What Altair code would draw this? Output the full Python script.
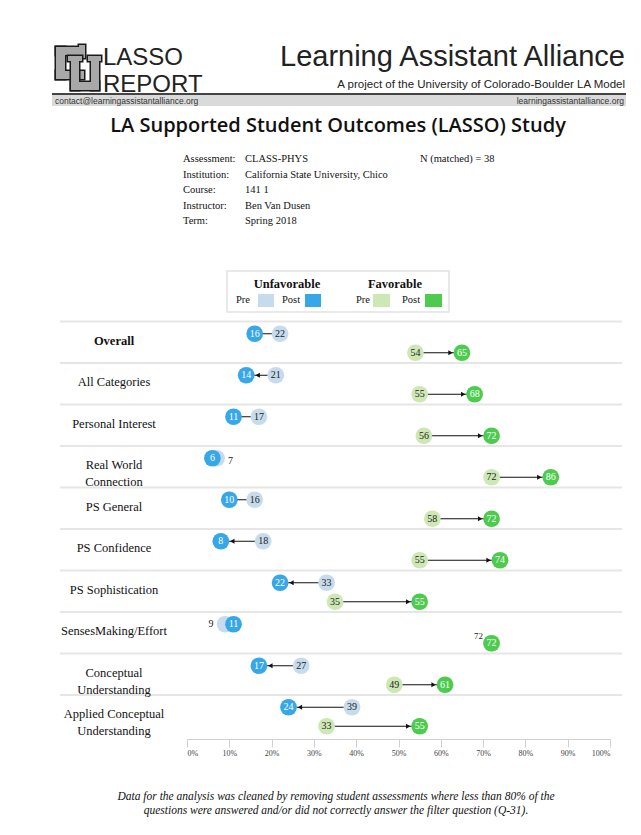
import altair as alt
import pandas as pd

# ---------------- data ----------------
categories = ["Overall", "All Categories", "Personal Interest", "Real World\nConnection",
              "PS General", "PS Confidence", "PS Sophistication", "SensesMaking/Effort",
              "Conceptual\nUnderstanding", "Applied Conceptual\nUnderstanding"]
unfav_pre = [22, 21, 17, 7, 16, 18, 33, 9, 27, 39]
unfav_post = [16, 14, 11, 6, 10, 8, 22, 11, 17, 24]
fav_pre = [54, 55, 56, 72, 58, 55, 35, 72, 49, 33]
fav_post = [65, 68, 72, 86, 72, 74, 55, 72, 61, 55]
axis_ticks = [0, 10, 20, 30, 40, 50, 60, 70, 80, 90, 100]

info_labels = ["Assessment:", "Institution:", "Course:", "Instructor:", "Term:"]
info_values = ["CLASS-PHYS", "California State University, Chico", "141 1", "Ben Van Dusen", "Spring 2018"]
n_matched = "N (matched) = 38"
footnote = ["Data for the analysis was cleaned by removing student assessments where less than 80% of the",
            "questions were answered and/or did not correctly answer the filter question (Q-31)."]

rows = []
for i, c in enumerate(categories):
    rows.append(dict(cat=c, group="Unfavorable", pre=unfav_pre[i], post=unfav_post[i]))
    rows.append(dict(cat=c, group="Favorable", pre=fav_pre[i], post=fav_post[i]))
df = pd.DataFrame(rows)
df_cats = pd.DataFrame({"cat": categories})
one = pd.DataFrame({"a": [0]})

SERIF = "Liberation Serif"
SANS = "Liberation Sans"
UNF_PRE, UNF_POST = "#c6dcec", "#37a7e8"
FAV_PRE, FAV_POST = "#cde8b5", "#4dcb4f"

# page -> plot coordinates
X0, Y0 = 187, 320
W, H = 423, 415
def px(x):
    return x - X0
def py(y):
    return y - Y0

xscale = alt.Scale(domain=[0, 100], nice=False, zero=False)
xaxis = alt.Axis(values=axis_ticks, labelExpr="datum.value + '%'", domainColor="#d0d0d0",
                 tickColor="#d0d0d0", tickSize=8, labelFont=SERIF, labelFontSize=8,
                 labelColor="#444", labelPadding=2, offset=4, grid=False, title=None)
yscale = alt.Scale(domain=categories, paddingInner=0, paddingOuter=0)

def xenc(f):
    return alt.X(f, type="quantitative", scale=xscale, axis=xaxis, title=None)

def yenc(**kw):
    return alt.Y("cat:N", sort=categories, scale=yscale, axis=None, **kw)

def txt(s, x, y, size, font=SERIF, align="left", weight="normal", style="normal",
        color="#111", baseline="middle", **kw):
    return alt.Chart(pd.DataFrame({"t": [s]})).mark_text(
        font=font, fontSize=size, align=align, fontWeight=weight, fontStyle=style,
        color=color, baseline=baseline, **kw
    ).encode(x=alt.value(px(x)), y=alt.value(py(y)), text=alt.Text("t:N"))

def box(x1, x2, y1, y2, fill, stroke=None, sw=0):
    kw = dict(fill=fill, strokeWidth=sw)
    if stroke:
        kw["stroke"] = stroke
    return alt.Chart(one).mark_rect(**kw).encode(
        x=alt.value(px(x1)), x2=alt.value(px(x2)), y=alt.value(py(y1)), y2=alt.value(py(y2)))

layers = []

# ---------------- header ----------------
# CU logo drawn with blocks: black outline pass, then gray fill pass, per letter
LG, LK = "#a8a8a8", "#1a1a1a"
def letter(parts):
    out = [box(a - 1.5, b + 1.5, c - 1.5, d + 1.5, LK) for a, b, c, d in parts]
    out += [box(a, b, c, d, LG) for a, b, c, d in parts]
    return out
C_parts = [(56, 84, 47, 55), (56, 65, 47, 79), (56, 84, 71, 79), (79, 85, 45, 58)]
U_parts = [(71, 79, 58, 90), (91, 99, 58, 90), (71, 99, 82, 90), (68, 82, 56, 61), (88, 101, 56, 61)]
layers += letter(C_parts)
layers += letter(U_parts)

layers.append(txt("LASSO", 103, 65, 24, font=SANS, baseline="alphabetic", color="#222"))
layers.append(txt("REPORT", 103, 92, 24, font=SANS, baseline="alphabetic", color="#222"))
layers.append(txt("Learning Assistant Alliance", 625, 66, 29, font=SANS, align="right",
                  baseline="alphabetic", color="#222"))
layers.append(txt("A project of the University of Colorado-Boulder LA Model", 625, 88, 11.5,
                  font=SANS, align="right", baseline="alphabetic", color="#222"))
layers.append(box(52, 626, 95, 106, "#dadada"))
layers.append(box(52, 626, 93, 95, "#444"))
layers.append(txt("contact@learningassistantalliance.org", 55, 101, 8.5, font=SANS, color="#333"))
layers.append(txt("learningassistantalliance.org", 624, 101, 8.5, font=SANS, align="right", color="#333"))
layers.append(txt("LA Supported Student Outcomes (LASSO) Study", 338, 126, 20, font="Open Sans",
                  align="center", weight=600, color="#111"))

# info block
for i, (lab, val) in enumerate(zip(info_labels, info_values)):
    yy = 159 + i * 15.5
    layers.append(txt(lab, 183, yy, 10.5))
    layers.append(txt(val, 245, yy, 10.5))
layers.append(txt(n_matched, 420, 159, 10.5))

# legend
layers.append(box(227, 449, 271, 312, "#ffffff", "#e2e2e2", 1.5))
layers.append(txt("Unfavorable", 287, 284, 12.5, align="center", weight="bold"))
layers.append(txt("Favorable", 395, 284, 12.5, align="center", weight="bold"))
layers.append(txt("Pre", 236, 300, 10.5))
layers.append(box(258, 274, 294, 307, UNF_PRE))
layers.append(txt("Post", 282, 300, 10.5))
layers.append(box(305, 321, 294, 307, UNF_POST))
layers.append(txt("Pre", 356, 300, 10.5))
layers.append(box(373, 390, 294, 307, FAV_PRE))
layers.append(txt("Post", 402, 300, 10.5))
layers.append(box(425, 442, 294, 307, FAV_POST))

# ---------------- rows ----------------
layers.append(alt.Chart(df_cats).mark_rule(color="#e6e6e6", strokeWidth=2, yOffset=1.5).encode(
    y=yenc(bandPosition=0), x=alt.value(px(60)), x2=alt.value(px(622))))
layers.append(alt.Chart(df_cats).transform_filter(alt.datum.cat != "Overall").mark_text(
    font=SERIF, fontSize=12.5, lineBreak="\n", align="center", baseline="middle",
    color="#111", lineHeight=17).encode(x=alt.value(px(114)), y=yenc(), text="cat:N"))
layers.append(alt.Chart(df_cats).transform_filter(alt.datum.cat == "Overall").mark_text(
    font=SERIF, fontSize=12.5, fontWeight="bold", align="center", baseline="middle",
    color="#111").encode(x=alt.value(px(114)), y=yenc(), text="cat:N"))

shape_enc = alt.Shape("dir:N", scale=alt.Scale(domain=["L", "R"],
                      range=["triangle-left", "triangle-right"]), legend=None)

def group_layers(g, yoff, pre_c, post_c):
    base = alt.Chart(df).transform_filter(alt.datum.group == g)
    out = []
    out.append(base.mark_rule(color="#111", strokeWidth=1, yOffset=yoff).encode(
        x=xenc("pre"), x2="post:Q", y=yenc()))
    out.append(base.transform_filter("abs(datum.pre - datum.post) >= 7").transform_calculate(
        hx="datum.post + (datum.pre > datum.post ? 2.7 : -2.7)",
        dir="datum.pre > datum.post ? 'L' : 'R'"
    ).mark_point(filled=True, size=26, color="#111", opacity=1, strokeWidth=0, yOffset=yoff).encode(
        x=xenc("hx"), y=yenc(), shape=shape_enc))
    out.append(base.mark_circle(size=280, color=pre_c, opacity=1, yOffset=yoff).encode(
        x=xenc("pre"), y=yenc()))
    out.append(base.mark_circle(size=280, color=post_c, opacity=1, yOffset=yoff).encode(
        x=xenc("post"), y=yenc()))
    tk = dict(font=SERIF, fontSize=10, baseline="middle", align="center")
    out.append(base.transform_filter("abs(datum.pre - datum.post) >= 3").mark_text(
        color="#222", yOffset=yoff, **tk).encode(x=xenc("pre"), y=yenc(), text="pre:Q"))
    out.append(base.transform_filter("datum.pre > datum.post && datum.pre - datum.post < 3").mark_text(
        color="#222", yOffset=yoff, dx=14, dy=3, **tk).encode(x=xenc("pre"), y=yenc(), text="pre:Q"))
    out.append(base.transform_filter("datum.pre < datum.post && datum.post - datum.pre < 3").mark_text(
        color="#222", yOffset=yoff, dx=-14, **tk).encode(x=xenc("pre"), y=yenc(), text="pre:Q"))
    out.append(base.transform_filter("datum.pre == datum.post").mark_text(
        color="#222", yOffset=yoff, dx=-13, dy=-7, font=SERIF, fontSize=9, baseline="middle",
        align="center").encode(x=xenc("pre"), y=yenc(), text="pre:Q"))
    out.append(base.mark_text(color="#ffffff", yOffset=yoff, **tk).encode(
        x=xenc("post"), y=yenc(), text="post:Q"))
    return out

layers += group_layers("Unfavorable", -7, UNF_PRE, UNF_POST)
layers += group_layers("Favorable", 12, FAV_PRE, FAV_POST)

# footnote
layers.append(txt(footnote[0], 336, 797, 11.5, align="center", style="italic"))
layers.append(txt(footnote[1], 336, 811, 11.5, align="center", style="italic"))

chart = alt.layer(*layers).properties(
    width=W, height=H,
    padding={"left": 179, "top": 312, "right": 20, "bottom": 85},
    autosize=alt.AutoSizeParams(type="none"),
    background="#ffffff",
).configure_view(strokeWidth=0)

chart.save("out.html", embed_options={"renderer": "svg", "actions": False})
